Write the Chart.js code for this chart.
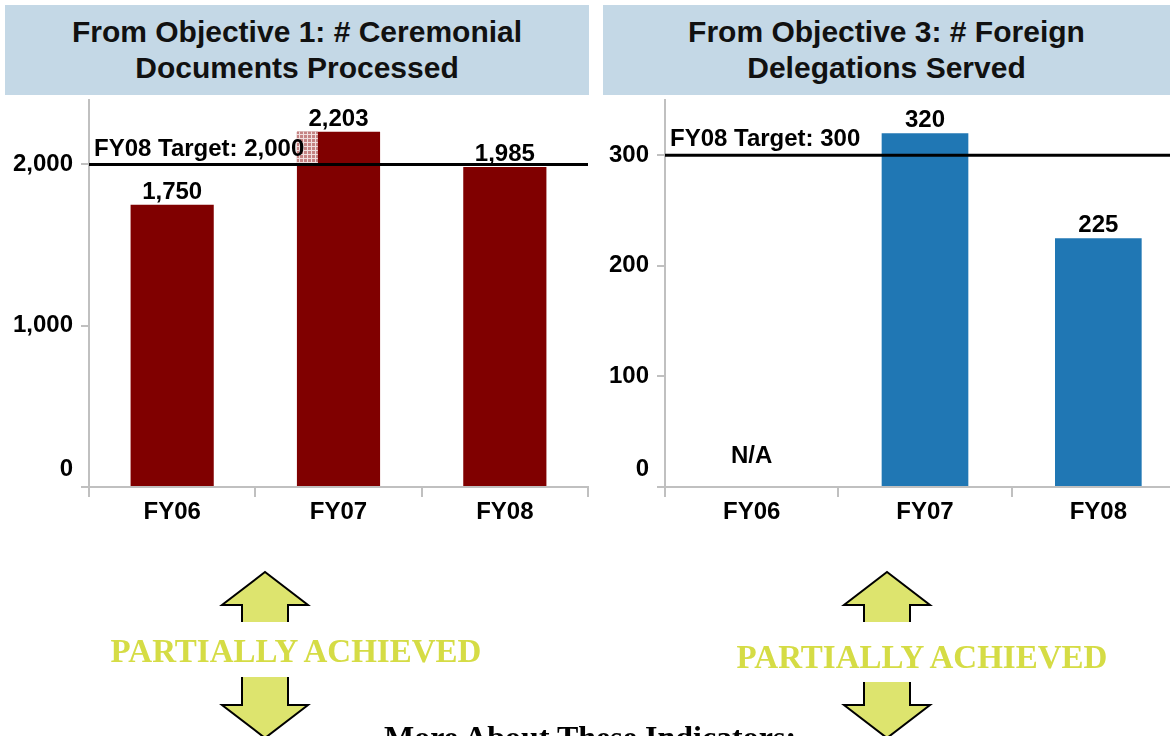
<!DOCTYPE html>
<html>
<head>
<meta charset="utf-8">
<script src="https://cdn.jsdelivr.net/npm/chart.js@4.4.0/dist/chart.umd.min.js"></script>
<style>
  body { margin: 0; width: 1170px; height: 736px; overflow: hidden; background: #fff; position: relative; font-family: "Liberation Sans", Arial, sans-serif; }
  .title { position: absolute; top: 5px; height: 90px; background: #c4d8e6; display: flex; align-items: center; justify-content: center; text-align: center; font-weight: bold; font-size: 30px; line-height: 36px; color: #111; }
  canvas { position: absolute; }
  svg { position: absolute; left: 0; top: 0; }
</style>
</head>
<body>
<div class="title" style="left:5px;width:584px;">From Objective 1: # Ceremonial<br>Documents Processed</div>
<div class="title" style="left:603px;width:567px;">From Objective 3: # Foreign<br>Delegations Served</div>

<canvas id="chart-documents" width="600" height="455" style="left:0;top:95px;"></canvas>
<canvas id="chart-delegations" width="600" height="455" style="left:600px;top:95px;"></canvas>

<svg width="1170" height="736">
  <g fill="#dde46e" stroke="#000" stroke-width="2">
    <polyline points="242,622 242,605 222,605 265,572 308,605 288,605 288,622" />
    <polyline points="242,677 242,705 222,705 265,738 308,705 288,705 288,677" />
    <polyline points="864,622 864,605 844,605 887,572 930,605 910,605 910,622" />
    <polyline points="864,682 864,705 844,705 887,738 930,705 910,705 910,682" />
  </g>
  <g font-family="Liberation Serif, Times New Roman, serif" font-weight="bold" font-size="33" text-anchor="middle">
    <text x="296" y="662" fill="#d5dc45">PARTIALLY ACHIEVED</text>
    <text x="922" y="668" fill="#d5dc45">PARTIALLY ACHIEVED</text>
    <text x="590" y="748" font-size="32" fill="#000">More About These Indicators:</text>
  </g>
</svg>

<script>
// data
const categories = ["FY06", "FY07", "FY08"];
const documentsProcessed = [1750, 2203, 1985];
const documentsTarget = 2000;
const documentsTargetLabel = "FY08 Target: 2,000";
const documentsTicks = [0, 1000, 2000];

const delegationsServed = [null, 320, 225];
const delegationsTarget = 300;
const delegationsTargetLabel = "FY08 Target: 300";
const delegationsTicks = [0, 100, 200, 300];

const fontFamily = "'Liberation Sans', Arial, sans-serif";
const labelFont = "bold 24px " + fontFamily;

// small checkered patch seen where the target label runs into a bar
function makeHatch(ctx) {
  const c = document.createElement("canvas");
  c.width = 4;
  c.height = 4;
  const p = c.getContext("2d");
  p.fillStyle = "#c58383";
  p.fillRect(0, 0, 4, 4);
  p.fillStyle = "#f1dede";
  p.fillRect(3, 0, 1, 4);
  p.fillRect(0, 3, 4, 1);
  return ctx.createPattern(c, "repeat");
}

// draws the target line, its label and the values on top of the bars
const annotatePlugin = {
  id: "annotate",
  afterDatasetsDraw(chart, args, opts) {
    const ctx = chart.ctx;
    const area = chart.chartArea;
    const y = chart.scales.y;
    const ty = y.getPixelForValue(opts.target);
    const meta = chart.getDatasetMeta(0);
    ctx.save();

    if (opts.hatchIndex !== undefined) {
      const bar = meta.data[opts.hatchIndex];
      ctx.fillStyle = makeHatch(ctx);
      ctx.fillRect(bar.x - bar.width / 2, bar.y, 21, ty - bar.y);
    }

    ctx.strokeStyle = "#000";
    ctx.lineWidth = 3;
    ctx.beginPath();
    ctx.moveTo(area.left, ty);
    ctx.lineTo(area.right + opts.lineOverrun, ty);
    ctx.stroke();

    ctx.font = labelFont;
    ctx.fillStyle = "#000";
    ctx.textBaseline = "alphabetic";
    ctx.textAlign = "left";
    ctx.fillText(opts.targetLabel, area.left + 5, ty - 9);

    ctx.textAlign = "center";
    chart.data.datasets[0].data.forEach((v, i) => {
      const bar = meta.data[i];
      if (v === null) {
        ctx.fillText("N/A", bar.x, y.getPixelForValue(0) - 24);
      } else {
        ctx.fillText(v.toLocaleString("en-US"), bar.x, bar.y - 6);
      }
    });
    ctx.restore();
  },
};

function makeChart(canvasId, values, color, maxValue, tickValues, target, targetLabel, axisWidth, rightPad, extra) {
  const ctx = document.getElementById(canvasId).getContext("2d");
  return new Chart(ctx, {
    type: "bar",
    plugins: [annotatePlugin],
    data: {
      labels: categories,
      datasets: [
        {
          data: values,
          backgroundColor: color,
          borderWidth: 0,
          barPercentage: 0.5,
          categoryPercentage: 1,
        },
      ],
    },
    options: {
      responsive: false,
      animation: false,
      layout: { padding: { top: 5, right: rightPad, left: 0, bottom: 0 } },
      plugins: {
        legend: { display: false },
        tooltip: { enabled: false },
        annotate: Object.assign({ target: target, targetLabel: targetLabel, lineOverrun: 0 }, extra),
      },
      scales: {
        y: {
          min: 0,
          max: maxValue,
          afterBuildTicks: (scale) => {
            scale.ticks = tickValues.map((v) => ({ value: v }));
          },
          afterFit: (scale) => {
            scale.width = axisWidth;
            scale.paddingTop = 0;
            scale.paddingBottom = 0;
          },
          border: { display: true, color: "#c0c0c0", width: 2 },
          grid: { drawOnChartArea: false, drawTicks: true, tickLength: 8, color: "#c0c0c0", lineWidth: 2 },
          ticks: {
            padding: 8,
            color: "#000",
            font: { family: fontFamily, size: 24, weight: "bold", lineHeight: 1.5 },
            // zero sits a little above the axis in the original
            callback: (value) => (value === 0 ? ["0", ""] : value.toLocaleString("en-US")),
          },
        },
        x: {
          afterFit: (scale) => {
            scale.height = 63;
            scale.paddingLeft = 0;
            scale.paddingRight = 0;
          },
          border: { display: true, color: "#c0c0c0", width: 2 },
          grid: { offset: true, drawOnChartArea: false, drawTicks: true, tickLength: 10, color: "#c0c0c0", lineWidth: 2 },
          ticks: {
            padding: 1,
            color: "#000",
            font: { family: fontFamily, size: 24, weight: "bold" },
          },
        },
      },
    },
  });
}

// Chart 1 ---------------
var chart1 = makeChart("chart-documents", documentsProcessed, "#800000", 2400, documentsTicks, documentsTarget, documentsTargetLabel, 89, 12, { hatchIndex: 1 });

// Chart 2 ---------------
var chart2 = makeChart("chart-delegations", delegationsServed, "#2077b4", 350, delegationsTicks, delegationsTarget, delegationsTargetLabel, 65, 15, { lineOverrun: 20 });
</script>
</body>
</html>
